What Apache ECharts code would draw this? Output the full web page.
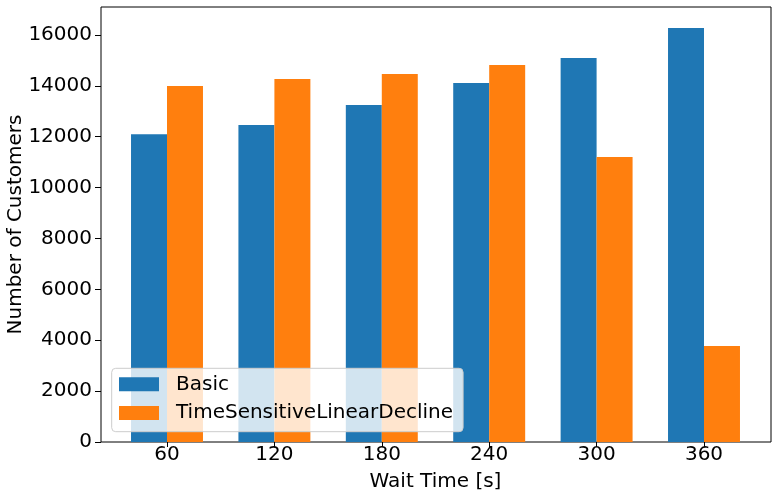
<!DOCTYPE html>
<html>
<head>
<meta charset="utf-8">
<script src="https://cdn.jsdelivr.net/npm/echarts@6/dist/echarts.min.js"></script>
<style>html,body{margin:0;padding:0;background:#fff}#c{width:777px;height:498px}</style>
</head>
<body>
<div id="c"></div>
<script>
const categories = ['60', '120', '180', '240', '300', '360'];
const basic = [12100, 12460, 13250, 14110, 15095, 16275];
const timeSensitive = [13990, 14270, 14470, 14820, 11200, 3770];
const yTicks = { min: 0, max: 17100, interval: 2000 };

const FONT = 'DejaVu Sans';
const FS = 20;
const chart = echarts.init(document.getElementById('c'), null, { renderer: 'canvas' });
chart.setOption({
  animation: false,
  textStyle: { fontFamily: FONT },
  grid: [
    { left: 101, right: 6, top: 7, bottom: 56, show: true, borderColor: '#000', borderWidth: 1, backgroundColor: 'transparent', containLabel: false, outerBoundsMode: 'none' },
    { left: 113.3, right: 19.3, top: 7, bottom: 56, containLabel: false, outerBoundsMode: 'none' }
  ],
  xAxis: [
    { type: 'value', gridIndex: 0, show: false, min: 0, max: 1 },
    {
      type: 'category', gridIndex: 1, data: categories,
      axisLine: { show: false },
      axisTick: { show: true, alignWithLabel: true, length: 5, lineStyle: { color: '#000', width: 1 } },
      axisLabel: { color: '#000', fontSize: FS, fontFamily: FONT, margin: 3 },
      name: 'Wait Time [s]', nameLocation: 'middle', nameGap: 30, nameMoveOverlap: false,
      nameTextStyle: { color: '#000', fontSize: FS, fontFamily: FONT }
    }
  ],
  yAxis: [
    {
      type: 'value', gridIndex: 0, min: yTicks.min, max: yTicks.max, interval: yTicks.interval,
      axisLine: { show: false },
      axisTick: { show: true, length: 6, lineStyle: { color: '#000', width: 1 } },
      splitLine: { show: false },
      axisLabel: { color: '#000', fontSize: FS, fontFamily: FONT, margin: 9, showMaxLabel: false, formatter: v => String(v) },
      name: 'Number of Customers', nameLocation: 'middle', nameGap: 75, nameMoveOverlap: false,
      nameTextStyle: { color: '#000', fontSize: FS, fontFamily: FONT }
    },
    { type: 'value', gridIndex: 1, min: yTicks.min, max: yTicks.max, show: false, splitLine: { show: false } }
  ],
  legend: {
    orient: 'vertical', left: 111.7, top: 368.3,
    itemWidth: 40, itemHeight: 14, itemGap: 8.7,
    padding: [6, 10, 8.7, 7.3],
    backgroundColor: 'rgba(255,255,255,0.8)', borderColor: '#cccccc', borderWidth: 1, borderRadius: 4,
    textStyle: { color: '#000', fontSize: FS, fontFamily: FONT, lineHeight: 20, padding: [0, 0, 0, 12] },
    data: [{ name: 'Basic', icon: 'rect' }, { name: 'TimeSensitiveLinearDecline', icon: 'rect' }]
  },
  series: [
    { name: 'Basic', type: 'bar', xAxisIndex: 1, yAxisIndex: 1, data: basic, barGap: '0%', barCategoryGap: '33%', itemStyle: { color: '#1f77b4' } },
    { name: 'TimeSensitiveLinearDecline', type: 'bar', xAxisIndex: 1, yAxisIndex: 1, data: timeSensitive, barGap: '0%', barCategoryGap: '33%', itemStyle: { color: '#ff7f0e' } }
  ]
});
</script>
</body>
</html>
